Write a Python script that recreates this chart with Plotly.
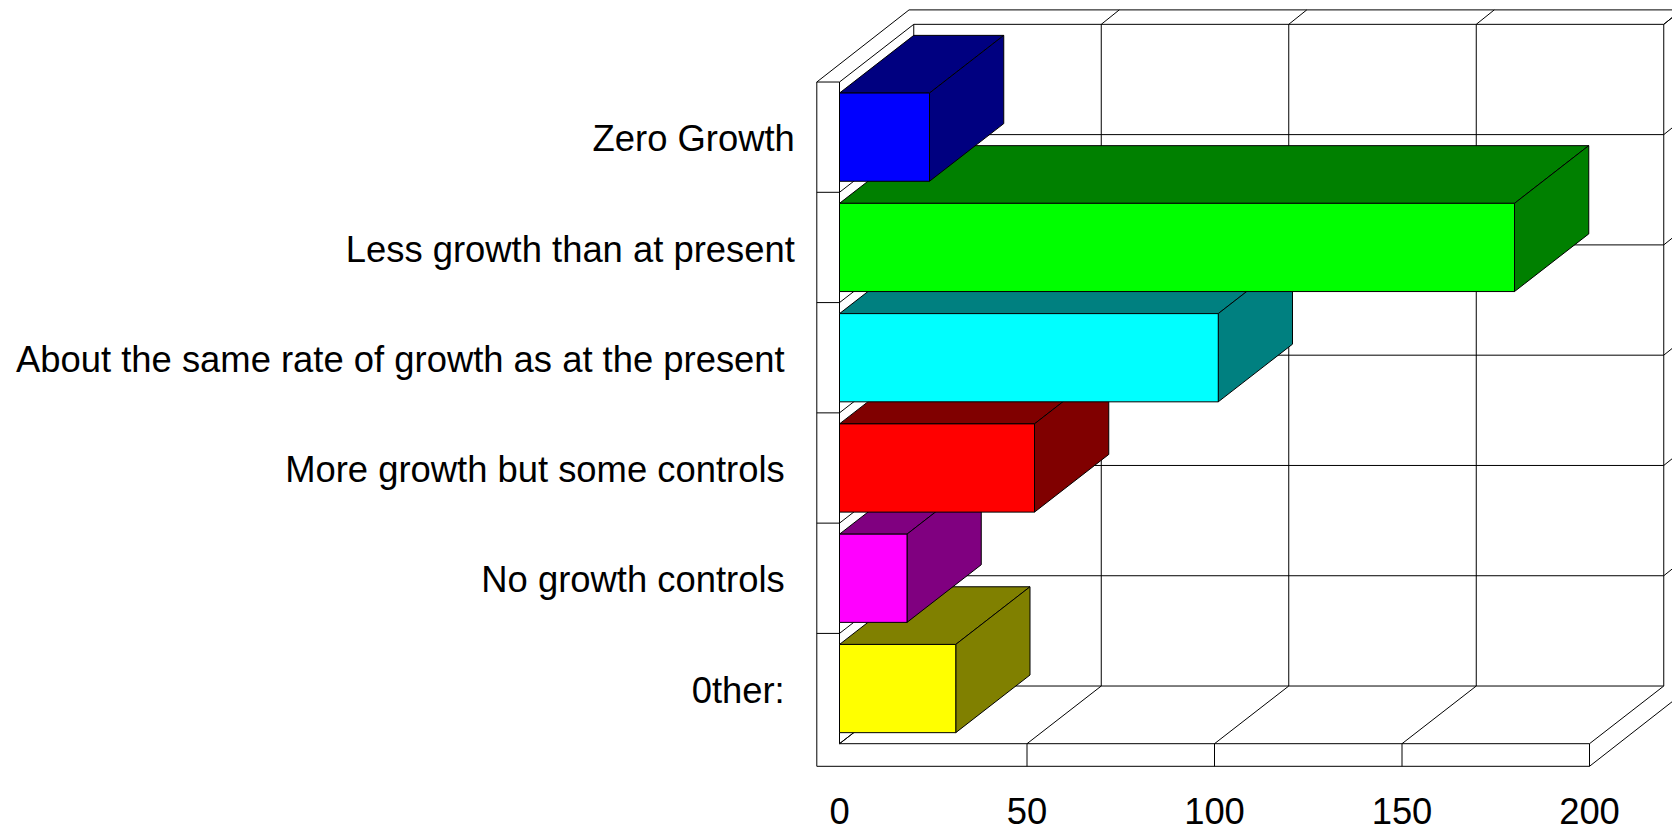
import plotly.graph_objects as go

# ---- data (top to bottom as shown) ----
categories = ["Zero Growth", "Less growth than at present",
              "About the same rate of growth as at the present\u00a0",
              "More growth but some controls\u00a0", "No growth controls\u00a0", "0ther:\u00a0"]
values = [24, 180, 101, 52, 18, 31]
front_colors = ["#0000FF", "#00FF00", "#00FFFF", "#FF0000", "#FF00FF", "#FFFF00"]
shade_colors = ["#000080", "#008000", "#008080", "#800000", "#800080", "#808000"]
x_ticks = [0, 50, 100, 150, 200]

# ---- pseudo-3D projection, in axis units ----
DX, DY = 19.8, 0.523      # depth of the box
WX, WY = 6.05, 0.205      # wall / floor thickness
EX, EY = 4.8, 0.131       # extra depth of the outer wall
GAP = 0.1                 # gap above/below each bar
n = len(categories)

wall_x, wall_y = [], []
def seg(*pts):
    for px, py in pts:
        wall_x.append(px)
        wall_y.append(py)
    wall_x.append(None)
    wall_y.append(None)

xmax = x_ticks[-1]
# back wall grid
for k in range(n + 1):
    seg((DX, k + DY), (xmax + DX, k + DY))
    seg((0, k), (DX, k + DY))
for t in x_ticks:
    seg((t + DX, DY), (t + DX, n + DY))
    seg((t, 0), (t + DX, DY))
    if t > 0:
        seg((t + DX, n + DY), (t + DX + EX, n + DY + EY))
        seg((t, -WY), (t, 0))
# right side stubs
for k in range(1, n + 1):
    seg((xmax + DX, k + DY), (xmax + DX + EX, k + DY + EY))
# left wall
seg((-WX, -WY), (-WX, n), (0, n), (0, 0), (xmax, 0))
for k in range(1, n):
    seg((-WX, k), (0, k))
seg((-WX, -WY), (xmax, -WY), (xmax + DX + EX, -WY + DY + EY))
seg((-WX, n), (-WX + DX + EX, n + DY + EY), (xmax + DX + EX + 40, n + DY + EY))

fig = go.Figure()
fig.add_trace(go.Scatter(x=wall_x, y=wall_y, mode="lines", showlegend=False, hoverinfo="skip",
                         line=dict(color="black", width=1)))

# bars: bottom category first, so upper bars overlap lower ones
for i in range(n - 1, -1, -1):
    v = values[i]
    pos = n - 1 - i
    y0, y1 = pos + GAP, pos + 1 - GAP
    faces = [
        ([0, v, v + DX, DX, 0], [y1, y1, y1 + DY, y1 + DY, y1], shade_colors[i]),
        ([v, v + DX, v + DX, v, v], [y1, y1 + DY, y0 + DY, y0, y1], shade_colors[i]),
        ([0, v, v, 0, 0], [y0, y0, y1, y1, y0], front_colors[i]),
    ]
    for fx, fy, col in faces:
        fig.add_trace(go.Scatter(x=fx, y=fy, mode="lines", fill="toself", fillcolor=col,
                                 line=dict(color="black", width=1), showlegend=False,
                                 name=categories[i].strip(), hoverinfo="name"))

W, H = 1672, 827
PX_X, PX_Y = 3.75, 110.28      # pixels per axis unit
X0_PX, Y0_PX = 839.5, 743.7    # where value 0 and the floor fall
font = dict(family="Liberation Sans, Arial, sans-serif", size=36.4, color="black")

fig.update_layout(
    width=W, height=H, autosize=False, margin=dict(l=0, r=0, t=0, b=0, autoexpand=False),
    paper_bgcolor="white", plot_bgcolor="white", showlegend=False,
    xaxis=dict(range=[-X0_PX / PX_X, (W - X0_PX) / PX_X], domain=[0, 1], anchor="free",
               position=1 - (Y0_PX + WY * PX_Y) / H, automargin=False,
               tickvals=x_ticks, ticktext=[str(t) for t in x_ticks], ticks="",
               ticklabelstandoff=20, showgrid=False, zeroline=False, showline=False,
               tickfont=font),
    yaxis=dict(range=[-(H - Y0_PX) / PX_Y, Y0_PX / PX_Y], domain=[0, 1], anchor="free",
               position=(X0_PX - WX * PX_X) / W, automargin=False,
               tickvals=[n - 0.512 - i for i in range(n)], ticktext=categories, ticks="",
               ticklabelstandoff=22, showgrid=False, zeroline=False, showline=False,
               tickfont=font),
)
fig.write_html("out.html", config=dict(displayModeBar=False),
               post_script="document.body.style.margin='0';")
